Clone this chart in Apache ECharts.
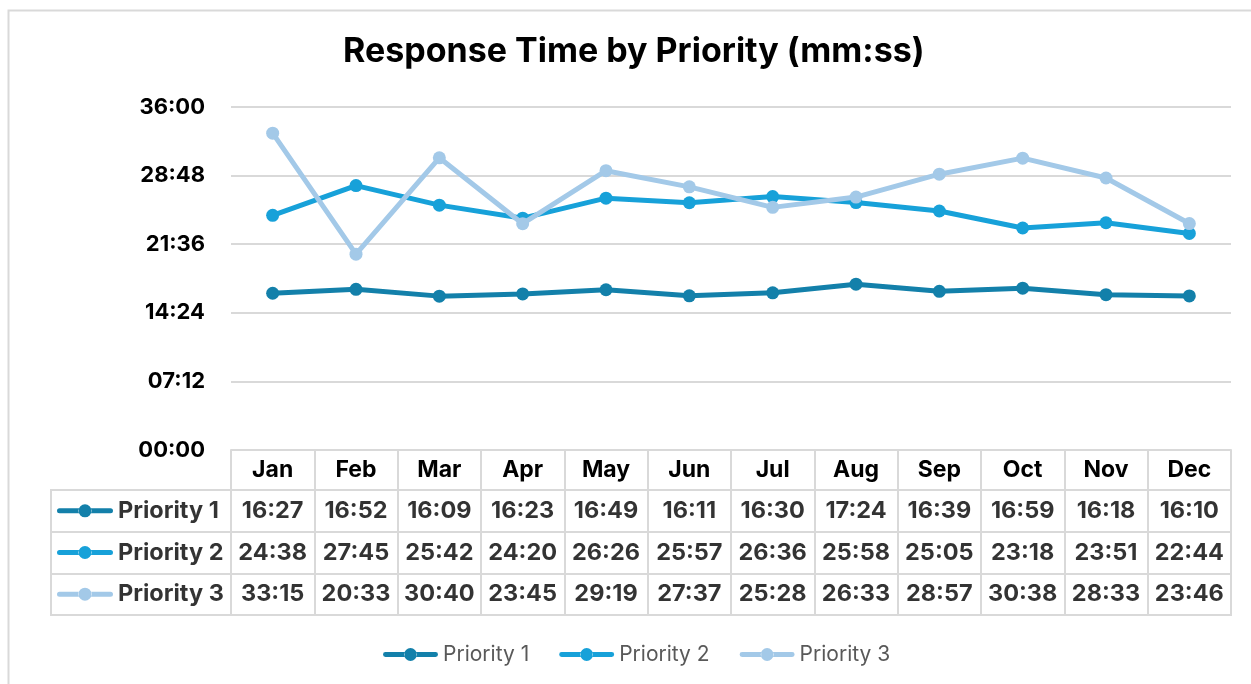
<!DOCTYPE html>
<html>
<head>
<meta charset="UTF-8">
<title>Response Time by Priority</title>
<script src="https://cdn.jsdelivr.net/npm/echarts@6/dist/echarts.min.js"></script>
<style>
  html, body { margin: 0; padding: 0; background: #fff; }
  #main { width: 1251px; height: 684px; }
</style>
</head>
<body>
<div id="main"></div>
<script>
// data (mm:ss)
var months = ['Jan', 'Feb', 'Mar', 'Apr', 'May', 'Jun', 'Jul', 'Aug', 'Sep', 'Oct', 'Nov', 'Dec'];
var rowNames = ['Priority 1', 'Priority 2', 'Priority 3'];
var priority1 = ['16:27', '16:52', '16:09', '16:23', '16:49', '16:11', '16:30', '17:24', '16:39', '16:59', '16:18', '16:10'];
var priority2 = ['24:38', '27:45', '25:42', '24:20', '26:26', '25:57', '26:36', '25:58', '25:05', '23:18', '23:51', '22:44'];
var priority3 = ['33:15', '20:33', '30:40', '23:45', '29:19', '27:37', '25:28', '26:33', '28:57', '30:38', '28:33', '23:46'];
var yTicks = ['00:00', '07:12', '14:24', '21:36', '28:48', '36:00'];

var colors = ['#1380aa', '#17a1d9', '#a3c9e8'];
var gridColor = '#d9d9d9';
var font = 'Inter, "Liberation Sans", sans-serif';

function toSec(s) {
  var p = s.split(':');
  return (+p[0]) * 60 + (+p[1]);
}
function fmt(v) {
  var m = Math.floor(v / 60), s = Math.round(v % 60);
  return (m < 10 ? '0' : '') + m + ':' + (s < 10 ? '0' : '') + s;
}

var rows = [priority1, priority2, priority3];
var yStep = toSec(yTicks[1]);
var yMax = toSec(yTicks[yTicks.length - 1]);

// table cells
var cellData = [];
rows.forEach(function (r, ri) {
  r.forEach(function (v, ci) {
    cellData.push([ci, ri, v]);
  });
});

// line + dot key, like Excel's legend marker
var keyPath = 'path://M2.5 4H22V9H2.5A2.5 2.5 0 0 1 2.5 4Z M34 4H53.5A2.5 2.5 0 0 1 53.5 9H34Z M21.5 6.5A6.5 6.5 0 1 0 34.5 6.5A6.5 6.5 0 1 0 21.5 6.5Z';

var myChart = echarts.init(document.getElementById('main'));

var lineSeries = rows.map(function (r, i) {
  return {
    name: rowNames[i],
    type: 'line',
    xAxisIndex: 0,
    yAxisIndex: 0,
    data: r.map(toSec),
    symbol: 'circle',
    symbolSize: 13,
    lineStyle: { width: 5, color: colors[i] },
    itemStyle: { color: colors[i] },
    z: 3 + i
  };
});

var option = {
  animation: false,
  color: colors,
  title: {
    text: 'Response Time by Priority (mm:ss)',
    left: 338,
    top: 30,
    textStyle: { fontFamily: font, fontSize: 34, fontWeight: 'bold', color: '#000' }
  },
  legend: {
    data: rowNames.map(function (n) { return { name: n, icon: keyPath }; }),
    left: 378,
    top: 639,
    itemWidth: 55,
    itemHeight: 13,
    itemGap: 30,
    textStyle: { fontFamily: font, fontSize: 21, color: '#595959' }
  },
  grid: [
    { left: 231, right: 20, top: 107, bottom: 234 },
    { left: 231, right: 20, top: 490, height: 125, show: true, borderColor: gridColor, borderWidth: 2 },
    { left: 51, width: 180, top: 490, height: 125, show: true, borderColor: gridColor, borderWidth: 2 }
  ],
  xAxis: [
    {
      type: 'category',
      gridIndex: 0,
      data: months,
      boundaryGap: true,
      axisLine: { lineStyle: { color: gridColor, width: 2 } },
      axisTick: { show: true, interval: 0, length: 40, lineStyle: { color: gridColor, width: 2 } },
      axisLabel: { interval: 0, margin: 9, fontFamily: font, fontSize: 23, fontWeight: 'bold', color: '#000' }
    },
    {
      type: 'category',
      gridIndex: 1,
      data: months,
      axisLine: { show: false },
      axisTick: { show: false },
      axisLabel: { show: false },
      splitLine: { show: true, interval: 0, lineStyle: { color: gridColor, width: 2 } }
    },
    {
      type: 'category',
      gridIndex: 2,
      data: [''],
      axisLine: { show: false },
      axisTick: { show: false },
      axisLabel: { show: false }
    }
  ],
  yAxis: [
    {
      type: 'value',
      gridIndex: 0,
      min: 0,
      max: yMax,
      interval: yStep,
      axisLine: { show: false },
      axisTick: { show: false },
      axisLabel: {
        margin: 26,
        fontFamily: font, fontSize: 22, fontWeight: 'bold', color: '#000',
        formatter: function (v) { return fmt(v); }
      },
      splitLine: { lineStyle: { color: gridColor, width: 2 } }
    },
    {
      type: 'category',
      gridIndex: 1,
      data: rowNames,
      inverse: true,
      axisLine: { show: false },
      axisTick: { show: false },
      axisLabel: { show: false },
      splitLine: { show: true, interval: 0, lineStyle: { color: gridColor, width: 2 } }
    },
    {
      type: 'category',
      gridIndex: 2,
      data: rowNames,
      inverse: true,
      axisLine: { show: false },
      axisTick: { show: false },
      axisLabel: { show: false },
      splitLine: { show: true, interval: 0, lineStyle: { color: gridColor, width: 2 } }
    }
  ],
  series: lineSeries.concat([
    {
      name: 'cells',
      type: 'scatter',
      xAxisIndex: 1,
      yAxisIndex: 1,
      symbolSize: 1,
      itemStyle: { color: 'transparent' },
      data: cellData,
      label: {
        show: true,
        position: 'inside',
        fontFamily: font, fontSize: 23.5, fontWeight: 'bold', color: '#000',
        formatter: function (p) { return p.data[2]; }
      },
      silent: true
    },
    {
      name: 'rowKeys',
      type: 'scatter',
      xAxisIndex: 2,
      yAxisIndex: 2,
      symbol: keyPath,
      symbolSize: [56, 13],
      symbolOffset: [-56, 0],
      data: rowNames.map(function (n, i) {
        return { value: [0, i], itemStyle: { color: colors[i], opacity: 1 } };
      }),
      silent: true
    },
    {
      name: 'rowNames',
      type: 'scatter',
      xAxisIndex: 2,
      yAxisIndex: 2,
      symbolSize: 1,
      itemStyle: { color: 'transparent' },
      data: rowNames.map(function (n, i) { return [0, i, n]; }),
      label: {
        show: true,
        position: 'inside',
        align: 'left',
        offset: [-23, 0],
        fontFamily: font, fontSize: 23.5, fontWeight: 'bold', color: '#000',
        formatter: function (p) { return p.data[2]; }
      },
      silent: true
    }
  ]),
  graphic: [
    {
      type: 'rect',
      left: 6,
      top: 8,
      shape: { width: 1400, height: 800 },
      style: { fill: 'none', stroke: gridColor, lineWidth: 2 },
      silent: true,
      z: -1
    }
  ]
};

myChart.setOption(option);
</script>
</body>
</html>
